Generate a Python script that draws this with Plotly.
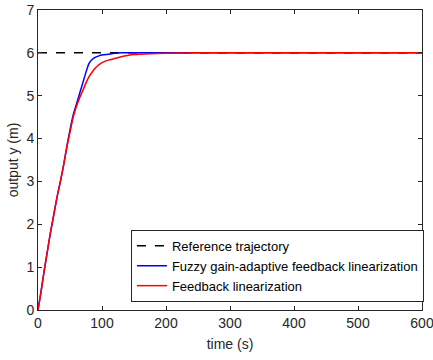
import plotly.graph_objects as go

t = [0, 5, 10, 15, 20, 25, 30, 35, 40, 45, 50, 55, 60, 65, 70, 75, 80, 85, 90, 95,
     100, 110, 120, 130, 140, 150, 175, 200, 250, 300, 400, 500, 600]
fuzzy = [0, 0.45, 0.95, 1.4, 1.85, 2.25, 2.65, 3.0, 3.38, 3.8, 4.2, 4.55, 4.8, 5.05,
         5.3, 5.55, 5.76, 5.85, 5.9, 5.93, 5.95, 5.97, 5.99, 6.0, 6.0, 6.0, 6.0, 6.0,
         6.0, 6.0, 6.0, 6.0, 6.0]
fl = [0, 0.45, 0.95, 1.4, 1.85, 2.25, 2.65, 3.0, 3.38, 3.8, 4.15, 4.5, 4.75, 4.95,
      5.12, 5.3, 5.45, 5.56, 5.65, 5.72, 5.77, 5.83, 5.87, 5.91, 5.94, 5.96, 5.98,
      5.99, 6.0, 6.0, 6.0, 6.0, 6.0]
ref_t = [0, 600]
ref_y = [6, 6]

fig = go.Figure()
fig.add_trace(go.Scatter(x=ref_t, y=ref_y, mode="lines", name="Reference trajectory",
                         line=dict(color="black", width=1.5, dash="dash")))
fig.add_trace(go.Scatter(x=t, y=fuzzy, mode="lines", name="Fuzzy gain-adaptive feedback linearization",
                         line=dict(color="#0000ff", width=1.5, shape="spline", smoothing=0.8)))
fig.add_trace(go.Scatter(x=t, y=fl, mode="lines", name="Feedback linearization",
                         line=dict(color="#ff0000", width=1.5, shape="spline", smoothing=0.8)))

axis_common = dict(showgrid=False, zeroline=False, showline=True, linecolor="#262626",
                   linewidth=1, mirror="ticks", ticks="inside", ticklen=4,
                   tickcolor="#262626", ticklabeloverflow="allow", automargin=False,
                   tickfont=dict(family="Liberation Sans, Arial", size=14, color="#262626"))

fig.update_layout(
    width=433, height=360,
    margin=dict(l=38, r=9, t=10, b=50),
    plot_bgcolor="white", paper_bgcolor="white",
    font=dict(family="Liberation Sans, Arial", color="#262626"),
    xaxis=dict(range=[0, 600], tickvals=[0, 100, 200, 300, 400, 500, 600],
               title=dict(text="time (s)", font=dict(size=14), standoff=9), **axis_common),
    yaxis=dict(range=[0, 7], tickvals=[0, 1, 2, 3, 4, 5, 6, 7],
               title=dict(text="output y (m)", font=dict(size=14), standoff=4), **axis_common),
    legend=dict(x=0.242, y=0.027, xanchor="left", yanchor="bottom",
                bgcolor="white", bordercolor="#262626", borderwidth=1,
                font=dict(size=13, color="black"), tracegroupgap=0,
                itemwidth=30),
    showlegend=True,
)

fig.write_html("out.html")
